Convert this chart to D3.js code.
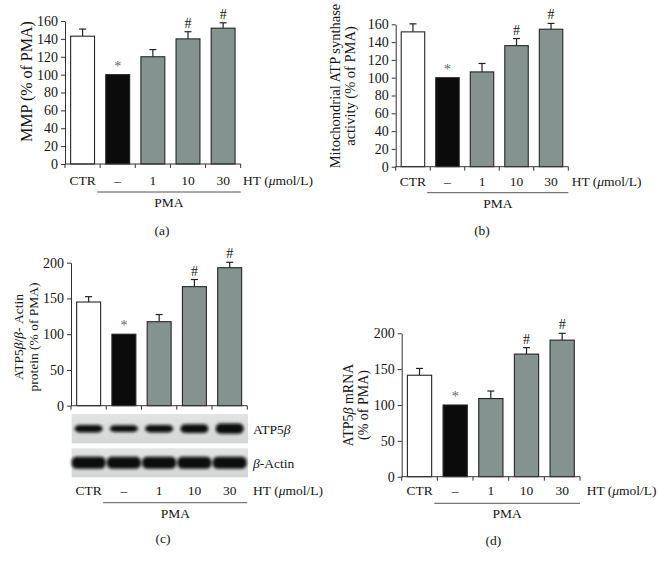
<!DOCTYPE html>
<html><head><meta charset="utf-8">
<script src="https://cdn.jsdelivr.net/npm/d3@7"></script>
<style>
body{margin:0;background:#fff}
svg{display:block}
text{font-family:"Liberation Serif","Times New Roman",serif;fill:#151515}
</style></head>
<body><svg id="c" width="659" height="565"></svg>
<script>
// ---- data ----
const categories = ["CTR", "–", "1", "10", "30"];
const mmpMean = [143, 100, 120, 140, 152];
const mmpSem = [8, 0, 8, 8, 6];
const atpActivityMean = [151.5, 100, 106.5, 136, 154.5];
const atpActivitySem = [9, 0, 9.5, 8, 6.5];
const proteinMean = [145, 100, 117.5, 166.5, 193];
const proteinSem = [7.5, 0, 10, 10, 7.5];
const mrnaMean = [141.5, 100, 109, 171, 190.5];
const mrnaSem = [9.5, 0, 10.5, 9, 9.5];
const significance = ["", "*", "", "#", "#"];
const ticks160 = [0, 20, 40, 60, 80, 100, 120, 140, 160];
const ticks200 = [0, 50, 100, 150, 200];
const atp5bBand = [1.0, 0.9, 1.0, 1.15, 1.35];
const actinBand = [1.0, 1.0, 1.0, 1.0, 1.0];

const svg = d3.select("#c");
const fillColor = i => i === 0 ? "#ffffff" : (i === 1 ? "#0b0b0b" : "#84938f");

const defs = svg.append("defs");
defs.append("filter").attr("id", "blur").attr("x", "-20%").attr("y", "-60%").attr("width", "140%").attr("height", "220%")
  .append("feGaussianBlur").attr("stdDeviation", 1.5);
const grad = defs.append("linearGradient").attr("id", "blotbg").attr("x1", 0).attr("y1", 0).attr("x2", 0).attr("y2", 1);
grad.append("stop").attr("offset", "0%").attr("stop-color", "#e2e3e3");
grad.append("stop").attr("offset", "100%").attr("stop-color", "#d4d6d6");

function richText(sel, parts) {
  parts.forEach(p => {
    sel.append("tspan").text(p.t).attr("font-style", p.i ? "italic" : null);
  });
}

function panel(o) {
  const g = svg.append("g");
  const x = d3.scaleBand().domain(categories).range([o.x0, o.x1]);
  const y = d3.scaleLinear().domain([0, o.max]).range([o.y0, o.yTop]);
  const bw = x.bandwidth() * 0.68;
  const bx = d => x(d) + (x.bandwidth() - bw) / 2;

  // error bars
  categories.forEach((c, i) => {
    if (o.sem[i] > 0) {
      const cx = x(c) + x.bandwidth() / 2;
      g.append("line").attr("x1", cx).attr("x2", cx)
        .attr("y1", y(o.mean[i])).attr("y2", y(o.mean[i] + o.sem[i]))
        .attr("stroke", "#222").attr("stroke-width", 1.2);
      g.append("line").attr("x1", cx - 3.5).attr("x2", cx + 3.5)
        .attr("y1", y(o.mean[i] + o.sem[i])).attr("y2", y(o.mean[i] + o.sem[i]))
        .attr("stroke", "#222").attr("stroke-width", 1.2);
    }
  });
  // bars
  g.selectAll("rect.bar").data(categories).join("rect").attr("class", "bar")
    .attr("x", d => bx(d)).attr("width", bw)
    .attr("y", (d, i) => y(o.mean[i])).attr("height", (d, i) => y(0) - y(o.mean[i]))
    .attr("fill", (d, i) => fillColor(i)).attr("stroke", "#262626").attr("stroke-width", 1.1);
  // significance marks
  g.selectAll("text.sig").data(categories).join("text").attr("class", "sig")
    .attr("x", d => x(d) + x.bandwidth() / 2)
    .attr("y", (d, i) => y(o.mean[i] + o.sem[i]) - 4)
    .attr("text-anchor", "middle").attr("font-size", 14)
    .style("fill", (d, i) => significance[i] === "*" ? "#666" : "#151515")
    .text((d, i) => significance[i]);

  // y axis
  const ax = g.append("g").attr("transform", `translate(${o.x0},0)`)
    .call(d3.axisLeft(y).tickValues(o.ticks).tickSize(4).tickSizeOuter(0).tickPadding(3));
  ax.selectAll("text").attr("font-size", 14).style("font-family", '"Liberation Serif",serif').style("fill", "#151515");
  ax.selectAll("line,path").attr("stroke", "#333");
  // x axis
  g.append("line").attr("x1", o.x0).attr("x2", o.x1).attr("y1", o.y0).attr("y2", o.y0).attr("stroke", "#333");
  g.selectAll("line.xt").data(categories.map(c => x(c)).concat([o.x1])).join("line").attr("class", "xt")
    .attr("x1", d => d).attr("x2", d => d).attr("y1", o.y0).attr("y2", o.y0 + 4).attr("stroke", "#333");

  // blot (panel c)
  if (o.blot) {
    const rows = [{top: 414, h: 29.3, band: atp5bBand, bh: 7.5, bwid: 28, label: [{t: "ATP5"}, {t: "β", i: true}]},
                  {top: 448.3, h: 29, band: actinBand, bh: 12, bwid: 34, label: [{t: "β", i: true}, {t: "-Actin"}]}];
    rows.forEach(r => {
      g.append("rect").attr("x", o.x0 + 0.7).attr("y", r.top).attr("width", o.x1 - o.x0).attr("height", r.h)
        .attr("fill", "url(#blotbg)");
      g.append("g").attr("filter", "url(#blur)").selectAll("rect").data(categories).join("rect")
        .attr("x", (d, i) => x(d) + x.bandwidth() / 2 - r.bwid / 2)
        .attr("width", r.bwid)
        .attr("y", (d, i) => r.top + r.h / 2 - r.bh * r.band[i] / 2)
        .attr("height", (d, i) => r.bh * r.band[i])
        .attr("rx", 5).attr("fill", "#0c0c0c");
      const t = g.append("text").attr("x", o.htX).attr("y", r.top + r.h / 2 + 5).attr("font-size", 13.5);
      richText(t, r.label);
    });
  }

  // category labels
  g.selectAll("text.cat").data(categories).join("text").attr("class", "cat")
    .attr("x", d => x(d) + x.bandwidth() / 2).attr("y", o.catY + 4.5)
    .attr("text-anchor", "middle").attr("font-size", 13.5).text(d => d);
  const ht = g.append("text").attr("x", o.htX).attr("y", o.catY + 4.5).attr("font-size", 13.5);
  richText(ht, [{t: "HT ("}, {t: "μ", i: true}, {t: "mol/L)"}]);
  // PMA bracket
  const px0 = x(categories[1]) - 3, px1 = o.x1;
  g.append("line").attr("x1", px0).attr("x2", px1).attr("y1", o.pmaY).attr("y2", o.pmaY)
    .attr("stroke", "#555").attr("stroke-width", 1);
  g.append("text").attr("x", (px0 + px1) / 2).attr("y", o.pmaY + 15).attr("text-anchor", "middle")
    .attr("font-size", 13.5).text("PMA");
  // panel letter
  g.append("text").attr("x", o.letterX).attr("y", o.letterY + 4.5).attr("text-anchor", "middle")
    .attr("font-size", 13.5).text(o.letter);
  // y label
  o.ylabel.forEach((line, k) => {
    const t = g.append("text").attr("text-anchor", "middle").attr("font-size", o.ylSize)
      .attr("transform", `translate(${o.ylX[k] + o.ylSize * 0.32},${o.ylY}) rotate(-90)`);
    richText(t, line);
  });
}

panel({x0: 65, x1: 240.7, yTop: 21, y0: 164, max: 160, ticks: ticks160, mean: mmpMean, sem: mmpSem,
  catY: 180, htX: 243, pmaY: 192, letter: "(a)", letterX: 162, letterY: 230,
  ylabel: [[{t: "MMP (% of PMA)"}]], ylX: [27], ylY: 81.5, ylSize: 16});
panel({x0: 395.7, x1: 568.3, yTop: 24.3, y0: 166.7, max: 160, ticks: ticks160, mean: atpActivityMean, sem: atpActivitySem,
  catY: 181.7, htX: 571.7, pmaY: 192.7, letter: "(b)", letterX: 482, letterY: 230,
  ylabel: [[{t: "Mitochondrial ATP synthase"}], [{t: "activity (% of PMA)"}]], ylX: [335, 350], ylY: 86, ylSize: 14.5});
panel({x0: 71, x1: 247.3, yTop: 262.7, y0: 405.7, max: 200, ticks: ticks200, mean: proteinMean, sem: proteinSem,
  blot: true, catY: 490, htX: 253, pmaY: 502.7, letter: "(c)", letterX: 163, letterY: 538,
  ylabel: [[{t: "ATP5"}, {t: "β", i: true}, {t: "/"}, {t: "β", i: true}, {t: "- Actin"}], [{t: "protein (% of PMA)"}]],
  ylX: [18.5, 33.5], ylY: 337, ylSize: 13.5});
panel({x0: 401.7, x1: 580, yTop: 333.3, y0: 476.7, max: 200, ticks: ticks200, mean: mrnaMean, sem: mrnaSem,
  catY: 490.7, htX: 586.7, pmaY: 503.3, letter: "(d)", letterX: 493.3, letterY: 540,
  ylabel: [[{t: "ATP5"}, {t: "β", i: true}, {t: " mRNA"}], [{t: "(% of PMA)"}]], ylX: [348.3, 363.3], ylY: 405, ylSize: 14});
</script></body></html>
